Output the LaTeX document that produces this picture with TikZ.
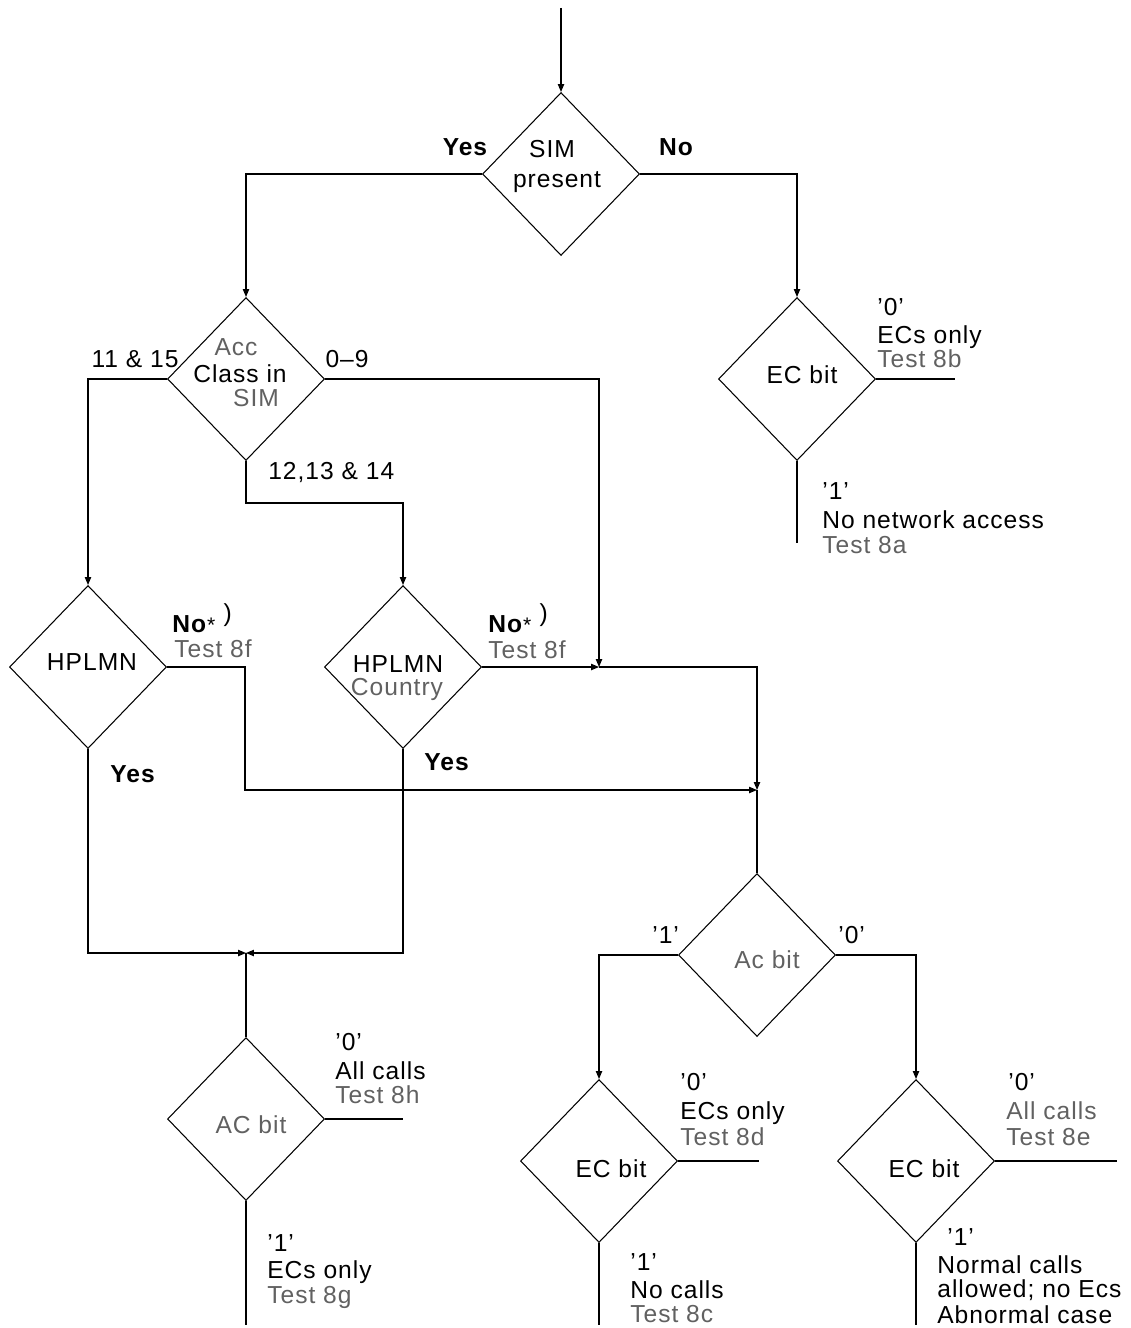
\documentclass[tikz,border=0pt]{standalone}
\usepackage{fontspec}
\setmainfont{Liberation Sans}[LetterSpace=4]
\usetikzlibrary{shapes.geometric,arrows.meta}
\begin{document}
\begin{tikzpicture}[x=0.02cm,y=-0.02cm,
  dia/.style={draw, diamond, inner sep=0pt, minimum width=3.14cm, minimum height=3.26cm, line width=0.6pt},
  arr/.style={-{Triangle[length=4.5pt,width=3.6pt]}, line width=0.6pt},
  ln/.style={line width=0.6pt},
  t/.style={inner sep=0pt, font=\fontsize{14}{16}\selectfont},
  tl/.style={t, anchor=base west},
  tc/.style={t, anchor=base},
  lite/.style={text=black!62},
  bld/.style={font=\fontsize{14}{16}\selectfont\bfseries}]
\useasboundingbox (0,0) rectangle (1131,1328);

% decision diamonds
\node[dia] (sim)  at (561,174)  {};
\node[dia] (acc)  at (246,379)  {};
\node[dia] (ec1)  at (797,379)  {};
\node[dia] (hp1)  at (88,667)   {};
\node[dia] (hp2)  at (403,667)  {};
\node[dia] (acb)  at (757,955)  {};
\node[dia] (acb2) at (246,1119) {};
\node[dia] (ec2)  at (599,1161) {};
\node[dia] (ec3)  at (916,1161) {};

% junctions and free ends
\coordinate (start) at (561,8);
\coordinate (b1) at (246,503);
\coordinate (j1) at (599,667);
\coordinate (j2) at (757,790);
\coordinate (k1) at (245,790);
\coordinate (m)  at (246,953);
\coordinate (o1) at (403,1119);
\coordinate (o2) at (246,1325);
\coordinate (o3) at (759,1161);
\coordinate (o4) at (599,1325);
\coordinate (o5) at (1117,1161);
\coordinate (o6) at (916,1325);
\coordinate (o7) at (955,379);
\coordinate (o8) at (797,543);

% connectors
\draw[arr] (start) -- (sim.north);
\draw[arr] (sim.west) -| (acc.north);
\draw[arr] (sim.east) -| (ec1.north);
\draw[arr] (acc.west) -| (hp1.north);
\draw[arr] (acc.east) -| (j1);
\draw[arr] (acc.south) -- (b1) -| (hp2.north);
\draw[arr] (hp2.east) -- (j1);
\draw[arr] (j1) -| (j2);
\draw[arr] (hp1.east) -| (k1) -- (j2);
\draw[ln] (j2) -- (acb.north);
\draw[arr] (hp1.south) |- (m);
\draw[arr] (hp2.south) |- (m);
\draw[ln] (acb2.north) -- (m);
\draw[ln] (acb2.east) -- (o1);
\draw[ln] (acb2.south) -- (o2);
\draw[arr] (acb.west) -| (ec2.north);
\draw[arr] (acb.east) -| (ec3.north);
\draw[ln] (ec2.east) -- (o3);
\draw[ln] (ec2.south) -- (o4);
\draw[ln] (ec3.east) -- (o5);
\draw[ln] (ec3.south) -- (o6);
\draw[ln] (ec1.east) -- (o7);
\draw[ln] (ec1.south) -- (o8);

% texts in diamonds
\node[tc] (tsim1) at (552,157) {SIM};
\node[tc] (tsim2) at (557,187) {present};
\node[tc,lite] (tacc1) at (236,355) {Acc};
\node[tc] (tacc2) at (240,382) {Class in};
\node[tc,lite] (tacc3) at (256,406) {SIM};
\node[tc] (tec1) at (802,383) {EC bit};
\node[tc] (thp1) at (92,670) {HPLMN};
\node[tc] (thp2a) at (398,672) {HPLMN};
\node[tc,lite] (thp2b) at (397,695) {Country};
\node[tc,lite] (tacb) at (767,968) {Ac bit};
\node[tc,lite] (tacb2) at (251,1133) {AC bit};
\node[tc] (tec2) at (611,1177) {EC bit};
\node[tc] (tec3) at (924,1177) {EC bit};

% branch labels
\node[tc,bld] (yes1) at (465,155) {Yes};
\node[tc,bld] (no1) at (676,155) {No};
\node[tc] (l1115) at (135,367) {11 \& 15};
\node[tc] (l09) at (347,367) {0--9};
\node[tl] (l1214) at (268,479) {12,13 \& 14};

\node[tl] (z1) at (877,315) {'0'};
\node[tl] (e1) at (877,343) {ECs only};
\node[tl,lite] (t8b) at (877,367) {Test 8b};
\node[tl] (one1) at (822,499) {'1'};
\node[tl] (nna) at (822,528) {No network access};
\node[tl,lite] (t8a) at (822,553) {Test 8a};

\node[tl] (no2) at (172,632) {\textbf{No}{\fontsize{12}{12}\selectfont *}\,\,\raisebox{6pt}{)}};
\node[tl,lite] (t8f1) at (174,657) {Test 8f};
\node[tl] (no3) at (488,632) {\textbf{No}{\fontsize{12}{12}\selectfont *}\,\,\raisebox{6pt}{)}};
\node[tl,lite] (t8f2) at (488,658) {Test 8f};
\node[tl,bld] (yes2) at (110,782) {Yes};
\node[tl,bld] (yes3) at (424,770) {Yes};

\node[tl] (z2) at (335,1050) {'0'};
\node[tl] (ac2) at (335,1079) {All calls};
\node[tl,lite] (t8h) at (335,1103) {Test 8h};
\node[tl] (one2) at (267,1251) {'1'};
\node[tl] (e2) at (267,1278) {ECs only};
\node[tl,lite] (t8g) at (267,1303) {Test 8g};

\node[tl] (one3) at (652,943) {'1'};
\node[tl] (z3) at (838,943) {'0'};

\node[tl] (z4) at (680,1090) {'0'};
\node[tl] (e4) at (680,1119) {ECs only};
\node[tl,lite] (t8d) at (680,1145) {Test 8d};
\node[tl] (one4) at (630,1270) {'1'};
\node[tl] (nc) at (630,1298) {No calls};
\node[tl,lite] (t8c) at (630,1322) {Test 8c};

\node[tl] (z5) at (1008,1090) {'0'};
\node[tl,lite] (ac5) at (1006,1119) {All calls};
\node[tl,lite] (t8e) at (1006,1145) {Test 8e};
\node[tl] (one5) at (947,1245) {'1'};
\node[tl] (nc5a) at (937,1273) {Normal calls};
\node[tl] (nc5b) at (937,1297) {allowed; no Ecs};
\node[tl] (nc5c) at (937,1323) {Abnormal case};
\end{tikzpicture}
\end{document}
